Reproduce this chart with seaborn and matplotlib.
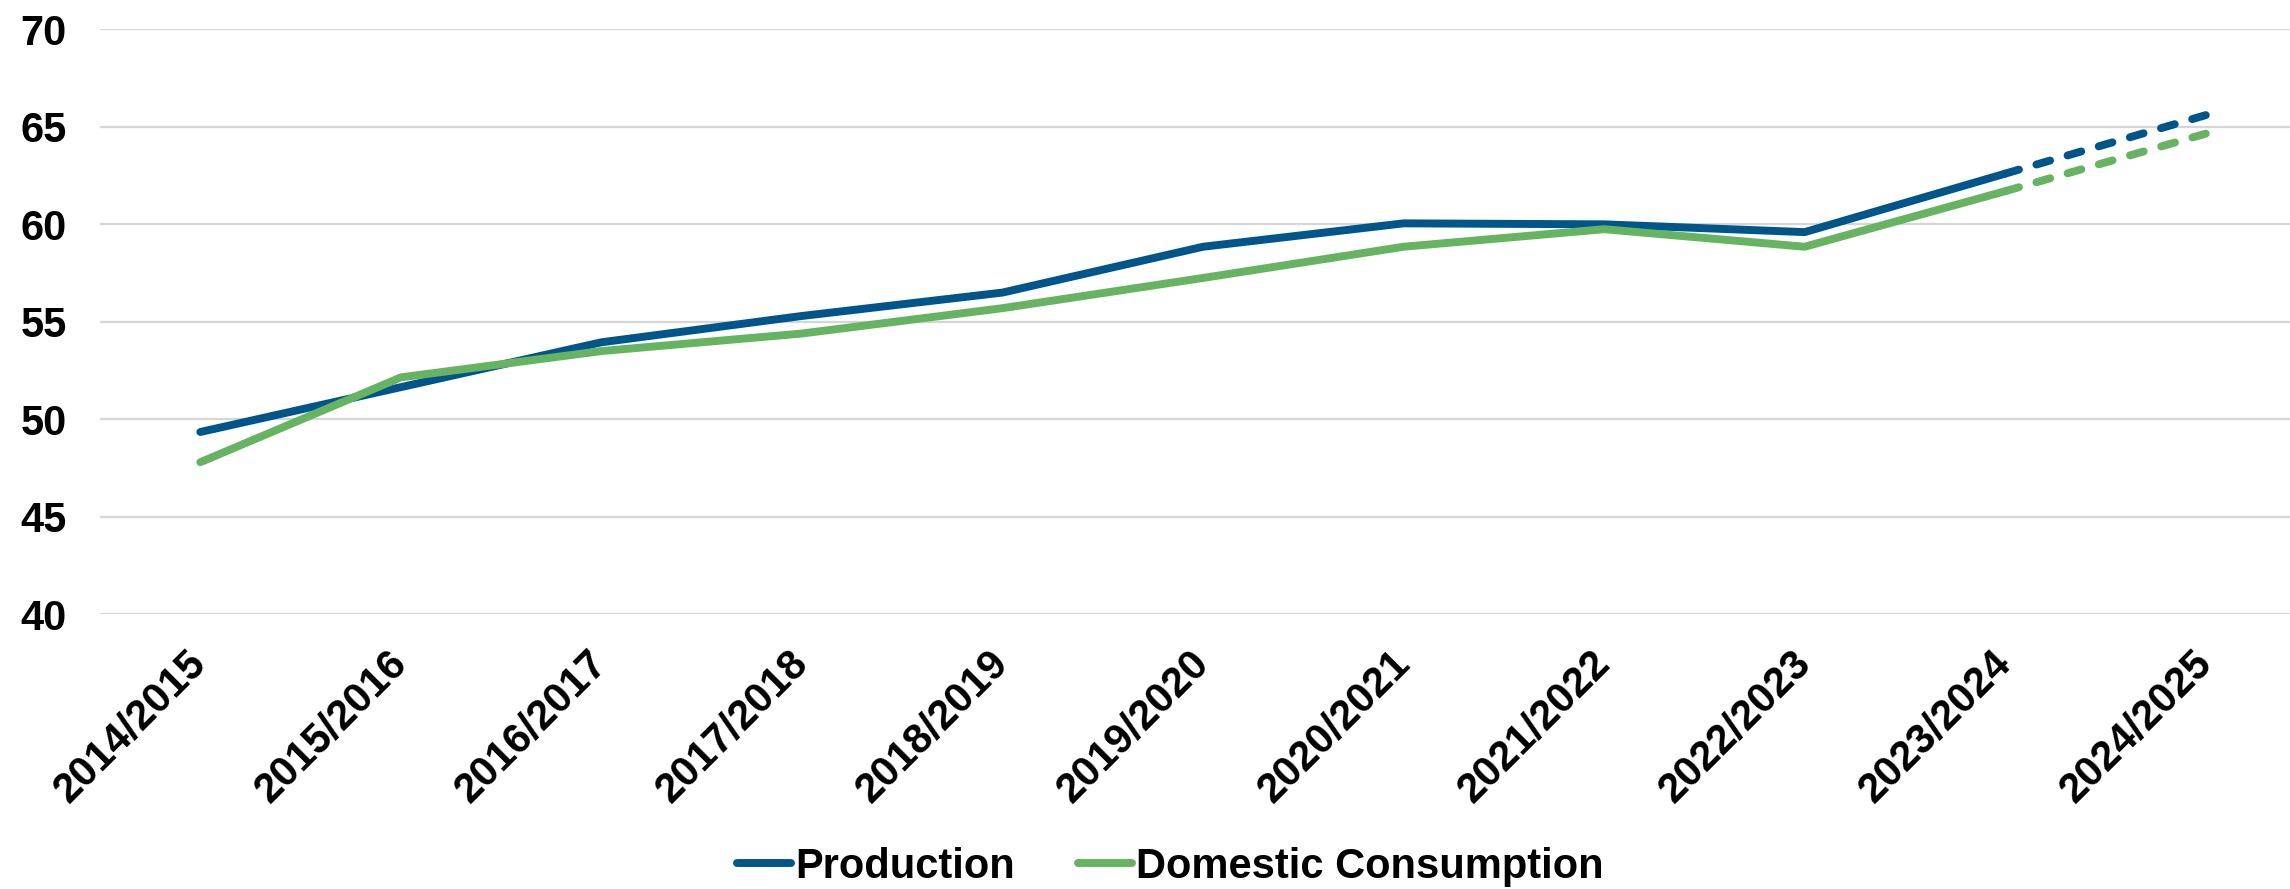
import pandas as pd
import matplotlib.pyplot as plt
import seaborn as sns

seasons = ['2014/2015', '2015/2016', '2016/2017', '2017/2018', '2018/2019',
           '2019/2020', '2020/2021', '2021/2022', '2022/2023', '2023/2024',
           '2024/2025']
production = [49.35, 51.65, 53.95, 55.3, 56.5, 58.85, 60.05, 60.0, 59.6, 62.6, 65.6]
consumption = [47.8, 52.15, 53.5, 54.4, 55.7, 57.25, 58.85, 59.75, 58.85, 61.7, 64.65]
# last season is a forecast -> dashed
n_actual = 10

colors = {'Production': '#00558B', 'Domestic Consumption': '#66B362'}

df = pd.concat([
    pd.DataFrame({'season': seasons, 'value': production, 'series': 'Production'}),
    pd.DataFrame({'season': seasons, 'value': consumption, 'series': 'Domestic Consumption'}),
])
df['idx'] = df.groupby('series').cumcount()

sns.set_theme(style='white')
plt.rcParams['font.family'] = ['Liberation Sans', 'DejaVu Sans']
plt.rcParams['font.weight'] = 'bold'
plt.rcParams['text.color'] = 'black'
plt.rcParams['xtick.color'] = 'black'
plt.rcParams['ytick.color'] = 'black'

fig = plt.figure(figsize=(22.9, 8.89), dpi=100)
ax = fig.add_axes([0.0437, 0.309, 0.9563, 0.658])

solid = df[df['idx'] < n_actual]
fcst = df[df['idx'] >= n_actual - 1]

sns.lineplot(data=solid, x='season', y='value', hue='series', palette=colors,
             sort=False, lw=5.7, ax=ax)
for name, g in fcst.groupby('series', sort=False):
    ax.plot(g['season'], g['value'], color=colors[name], lw=5.7,
            dashes=(1.8, 2.3), dash_capstyle='round')

ax.set_ylim(40, 70)
ax.set_yticks(range(40, 71, 5))
ax.set_xlim(-0.5, 10.42)
ax.grid(axis='y', color='#d6d6d6', lw=1.6)
ax.grid(axis='x', visible=False)
sns.despine(ax=ax, left=True, bottom=True)
ax.set_xlabel('')
ax.set_ylabel('')
ax.tick_params(axis='y', labelsize=30, pad=24, length=0, labelcolor='black')
ax.tick_params(axis='x', labelsize=30, pad=31, length=0, labelcolor='black')
for lab in ax.get_xticklabels():
    lab.set_rotation(45)
    lab.set_ha('right')
    lab.set_va('center')
    lab.set_rotation_mode('anchor')
for lab in ax.get_xticklabels() + ax.get_yticklabels():
    lab.set_fontweight('bold')

handles, labels = ax.get_legend_handles_labels()
leg = ax.legend(handles, labels, loc='center', bbox_to_anchor=(0.511, 0.025),
                bbox_transform=fig.transFigure, ncol=2, frameon=False,
                prop={'size': 30, 'weight': 'bold'}, handlelength=1.3,
                handletextpad=0.1, columnspacing=1.5)
for t in leg.get_texts():
    t.set_color('black')

fig.savefig('out.png', dpi=100)
